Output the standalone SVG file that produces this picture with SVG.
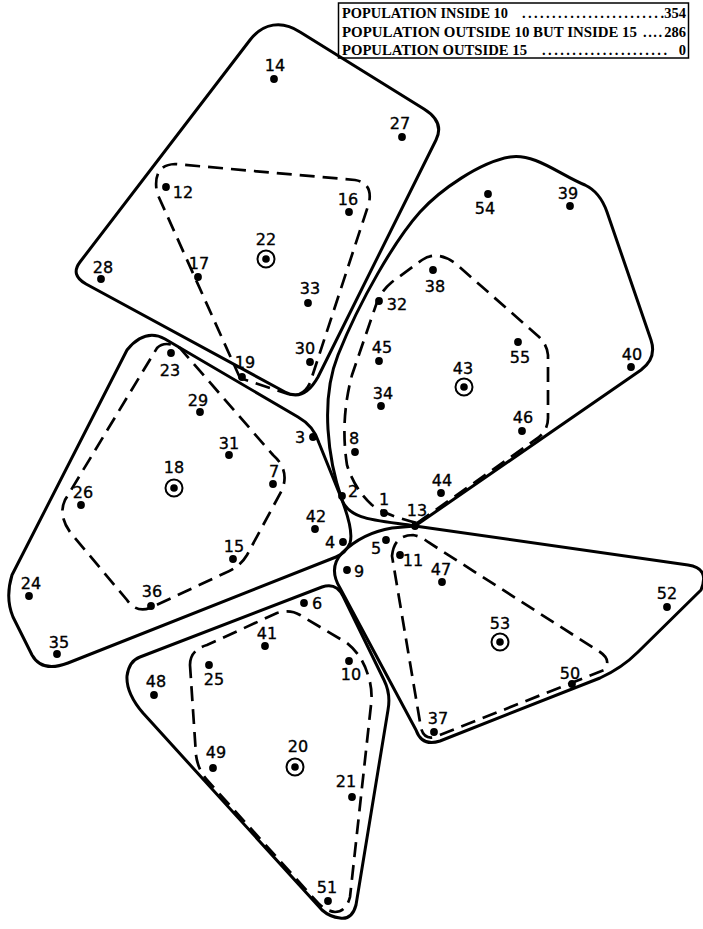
<svg xmlns="http://www.w3.org/2000/svg" width="703" height="929" viewBox="0 0 703 929">
<style>
.bg{fill:#fff}
.solid{fill:none;stroke:#000;stroke-width:3;stroke-linejoin:round;stroke-linecap:round}
.dash{fill:none;stroke:#000;stroke-width:2.7;stroke-dasharray:15 8;stroke-linecap:butt}
.lbl{font-family:"DejaVu Sans","Liberation Sans",sans-serif;font-size:16px;fill:#000;stroke:#000;stroke-width:0.35;text-anchor:middle}
.leg{font-family:"Liberation Serif","Times New Roman",serif;font-size:14.5px;font-weight:bold;fill:#000}
.ring{fill:none;stroke:#000;stroke-width:2}
</style>
<defs>
<circle id="dot" r="3.9" fill="#000"/>
<g id="ctr"><circle r="8.5" class="ring"/><circle r="3.8" fill="#000"/></g>
</defs>
<rect class="bg" x="0" y="0" width="703" height="929"/>

<g id="legend">
<rect x="338.5" y="3" width="350" height="55" fill="#fff" stroke="#000" stroke-width="1.5"/>
<text class="leg" x="342" y="18" textLength="166" lengthAdjust="spacingAndGlyphs">POPULATION INSIDE 10</text>
<text class="leg" x="522" y="18" textLength="142" lengthAdjust="spacing">........................</text>
<text class="leg" x="686" y="18" text-anchor="end">354</text>
<text class="leg" x="342" y="37" textLength="295" lengthAdjust="spacingAndGlyphs">POPULATION OUTSIDE 10 BUT INSIDE 15</text>
<text class="leg" x="643" y="37" textLength="19" lengthAdjust="spacing">....</text>
<text class="leg" x="686" y="37" text-anchor="end">286</text>
<text class="leg" x="342" y="55" textLength="185" lengthAdjust="spacingAndGlyphs">POPULATION OUTSIDE 15</text>
<text class="leg" x="542" y="55" textLength="125" lengthAdjust="spacing">.....................</text>
<text class="leg" x="686" y="55" text-anchor="end">0</text>
</g>

<g id="connectors">
<path id="r22" class="solid" d="M 250,40 C 263,23 282,20 300,32 L 424,109 Q 445,122 436,140 L 318,377 Q 304,402 285,392 L 86,284 Q 70,275 80,262 Z"/>
<path id="r22d" class="dash" d="M 240,378 L 157,193 Q 152,165 175,164 L 355,180 Q 373,183 369,203 L 310,383 Q 303,398 288,394 Z"/>
<path id="r43" class="solid" d="M 415,526 L 641,370 Q 657,358 651,340 L 607,212 Q 600,192 585,185 C 560,175 535,153 510,157 C 480,162 440,190 420,212 C 395,240 360,300 338,355 C 320,400 328,460 342,500 C 350,520 375,520 415,526 Z"/>
<path id="r43d" class="dash" d="M 417,523 L 535,440 Q 548,432 548,418 L 548,355 Q 547,344 538,336 L 455,263 Q 437,250 422,260 L 392,282 Q 380,292 376,305 L 352,375 Q 340,420 347,465 Q 355,490 372,505 Q 385,515 417,523 Z"/>
<path id="r18" class="solid" d="M 127,350 Q 145,328 165,339 L 298,417 Q 314,426 319,443 L 340,495 Q 354,530 350,543 Q 346,553 336,557 L 68,663 Q 42,673 32,655 L 13,617 Q 5,598 12,575 Z"/>
<path id="r18d" class="dash" d="M 157,348 Q 165,340 180,348 L 273,455 Q 290,470 282,490 L 247,555 Q 240,567 225,573 L 150,608 Q 136,613 127,600 L 70,532 Q 58,515 65,500 Z"/>
<path id="r53" class="solid" d="M 415,526 L 688,565 Q 710,568 701,590 L 638,652 Q 622,668 600,678 L 440,741 Q 422,747 416,730 L 340,588 Q 328,568 342,553 Q 362,533 392,528 Z"/>
<path id="r53d" class="dash" d="M 392,556 Q 394,535 413,535 Q 420,536 428,542 L 600,652 Q 612,660 604,670 L 435,737 Q 424,740 421,728 Z"/>
<path id="r20" class="solid" d="M 140,657 L 322,587 Q 336,582 343,596 L 384,680 Q 391,694 388,710 L 356,905 Q 352,920 340,918 Q 330,917 322,910 L 143,713 Q 126,693 127,676 Q 129,661 140,657 Z"/>
<path id="r20d" class="dash" d="M 190,665 Q 190,650 207,645 L 277,613 Q 290,609 300,615 L 347,643 Q 362,655 368,675 Q 373,690 371,705 L 350,897 Q 346,912 335,912 Q 326,911 318,903 L 207,780 Q 198,770 196,755 Z"/>
</g>

<g id="n1"><use href="#dot" x="384" y="513"/><text class="lbl" x="384" y="505">1</text></g>
<g id="n2"><use href="#dot" x="342" y="496"/><text class="lbl" x="353" y="497">2</text></g>
<g id="n3"><use href="#dot" x="313" y="437"/><text class="lbl" x="300" y="443">3</text></g>
<g id="n4"><use href="#dot" x="343" y="542"/><text class="lbl" x="330" y="548">4</text></g>
<g id="n5"><use href="#dot" x="386" y="540"/><text class="lbl" x="376" y="554">5</text></g>
<g id="n6"><use href="#dot" x="304" y="603"/><text class="lbl" x="317" y="609">6</text></g>
<g id="n7"><use href="#dot" x="273" y="484"/><text class="lbl" x="274" y="477">7</text></g>
<g id="n8"><use href="#dot" x="355" y="452"/><text class="lbl" x="354" y="444">8</text></g>
<g id="n9"><use href="#dot" x="347" y="570"/><text class="lbl" x="359" y="577">9</text></g>
<g id="n10"><use href="#dot" x="349" y="661"/><text class="lbl" x="351" y="680">10</text></g>
<g id="n11"><use href="#dot" x="400" y="555"/><text class="lbl" x="413" y="566">11</text></g>
<g id="n12"><use href="#dot" x="166" y="187"/><text class="lbl" x="183" y="198">12</text></g>
<g id="n13"><use href="#dot" x="415" y="526"/><text class="lbl" x="417" y="516">13</text></g>
<g id="n14"><use href="#dot" x="274" y="79"/><text class="lbl" x="275" y="71">14</text></g>
<g id="n15"><use href="#dot" x="233" y="559"/><text class="lbl" x="234" y="552">15</text></g>
<g id="n16"><use href="#dot" x="349" y="212"/><text class="lbl" x="348" y="205">16</text></g>
<g id="n17"><use href="#dot" x="198" y="277"/><text class="lbl" x="199" y="269">17</text></g>
<g id="n18"><use href="#ctr" x="174" y="488"/><text class="lbl" x="174" y="473">18</text></g>
<g id="n19"><use href="#dot" x="242" y="377"/><text class="lbl" x="245" y="368">19</text></g>
<g id="n20"><use href="#ctr" x="295" y="767"/><text class="lbl" x="298" y="752">20</text></g>
<g id="n21"><use href="#dot" x="352" y="797"/><text class="lbl" x="346" y="787">21</text></g>
<g id="n22"><use href="#ctr" x="266" y="259"/><text class="lbl" x="266" y="245">22</text></g>
<g id="n23"><use href="#dot" x="171" y="353"/><text class="lbl" x="170" y="376">23</text></g>
<g id="n24"><use href="#dot" x="29" y="596"/><text class="lbl" x="31" y="589">24</text></g>
<g id="n25"><use href="#dot" x="209" y="665"/><text class="lbl" x="214" y="685">25</text></g>
<g id="n26"><use href="#dot" x="81" y="505"/><text class="lbl" x="83" y="498">26</text></g>
<g id="n27"><use href="#dot" x="402" y="137"/><text class="lbl" x="400" y="129">27</text></g>
<g id="n28"><use href="#dot" x="101" y="279"/><text class="lbl" x="103" y="273">28</text></g>
<g id="n29"><use href="#dot" x="200" y="412"/><text class="lbl" x="198" y="406">29</text></g>
<g id="n30"><use href="#dot" x="310" y="362"/><text class="lbl" x="305" y="354">30</text></g>
<g id="n31"><use href="#dot" x="229" y="455"/><text class="lbl" x="229" y="449">31</text></g>
<g id="n32"><use href="#dot" x="379" y="301"/><text class="lbl" x="397" y="310">32</text></g>
<g id="n33"><use href="#dot" x="308" y="303"/><text class="lbl" x="310" y="294">33</text></g>
<g id="n34"><use href="#dot" x="381" y="406"/><text class="lbl" x="383" y="399">34</text></g>
<g id="n35"><use href="#dot" x="57" y="654"/><text class="lbl" x="59" y="648">35</text></g>
<g id="n36"><use href="#dot" x="151" y="606"/><text class="lbl" x="152" y="597">36</text></g>
<g id="n37"><use href="#dot" x="434" y="732"/><text class="lbl" x="438" y="724">37</text></g>
<g id="n38"><use href="#dot" x="433" y="270"/><text class="lbl" x="435" y="292">38</text></g>
<g id="n39"><use href="#dot" x="570" y="206"/><text class="lbl" x="568" y="199">39</text></g>
<g id="n40"><use href="#dot" x="631" y="367"/><text class="lbl" x="632" y="360">40</text></g>
<g id="n41"><use href="#dot" x="265" y="646"/><text class="lbl" x="267" y="639">41</text></g>
<g id="n42"><use href="#dot" x="315" y="529"/><text class="lbl" x="316" y="522">42</text></g>
<g id="n43"><use href="#ctr" x="464" y="387"/><text class="lbl" x="463" y="374">43</text></g>
<g id="n44"><use href="#dot" x="441" y="493"/><text class="lbl" x="442" y="486">44</text></g>
<g id="n45"><use href="#dot" x="379" y="361"/><text class="lbl" x="382" y="353">45</text></g>
<g id="n46"><use href="#dot" x="522" y="431"/><text class="lbl" x="523" y="423">46</text></g>
<g id="n47"><use href="#dot" x="442" y="582"/><text class="lbl" x="441" y="575">47</text></g>
<g id="n48"><use href="#dot" x="154" y="695"/><text class="lbl" x="156" y="687">48</text></g>
<g id="n49"><use href="#dot" x="213" y="768"/><text class="lbl" x="216" y="758">49</text></g>
<g id="n50"><use href="#dot" x="572" y="684"/><text class="lbl" x="570" y="679">50</text></g>
<g id="n51"><use href="#dot" x="328" y="901"/><text class="lbl" x="327" y="893">51</text></g>
<g id="n52"><use href="#dot" x="667" y="607"/><text class="lbl" x="667" y="599">52</text></g>
<g id="n53"><use href="#ctr" x="500" y="642"/><text class="lbl" x="500" y="629">53</text></g>
<g id="n54"><use href="#dot" x="488" y="194"/><text class="lbl" x="485" y="214">54</text></g>
<g id="n55"><use href="#dot" x="518" y="342"/><text class="lbl" x="520" y="363">55</text></g>
</svg>
